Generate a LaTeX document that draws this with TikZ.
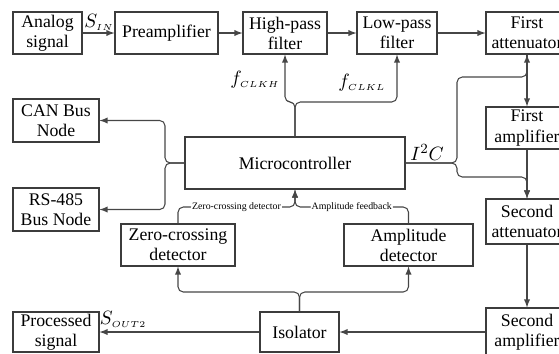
\documentclass[tikz,border=0pt]{standalone}
\usepackage{fontspec}
\setmainfont{Liberation Serif}
\usepackage{tikz}
\usetikzlibrary{arrows}
\definecolor{wire}{RGB}{70, 70, 70}
\definecolor{edge}{RGB}{60, 60, 60}
\newcommand{\lbsub}[1]{\scriptscriptstyle #1}

\begin{document}
\begin{tikzpicture}[
        blk/.style={draw=edge, line width=0.6pt, align=center, inner sep=1pt,
                    minimum height=0.84cm, font=\fontsize{10.1}{11.4}\selectfont},
        sig/.style={draw=wire, line width=0.6pt, -latex, rounded corners=3pt},
        tag/.style={font=\fontsize{5.6}{6.5}\selectfont, fill=white, inner sep=0.6pt},
        lab/.style={font=\fontsize{11}{13}\selectfont, inner sep=0pt}]
            \useasboundingbox (0.00, 0.00) rectangle (11.18, 7.06);
            \clip             (0.00, 0.00) rectangle (11.18, 7.06);

            % signal path, top row
            \node[blk, minimum width=1.38cm] (analog) at ( 0.95,  6.40) {Analog\\signal};
            \node[blk, minimum width=2.06cm] (pre)    at ( 3.33,  6.40) {Preamplifier};
            \node[blk, minimum width=1.68cm] (hpf)    at ( 5.70,  6.40) {High-pass\\filter};
            \node[blk, minimum width=1.60cm] (lpf)    at ( 7.94,  6.40) {Low-pass\\filter};
            \node[blk, minimum width=1.64cm] (att1)   at (10.54,  6.40) {First\\attenuator};

            % right column
            \node[blk, minimum width=1.64cm]                        (amp1) at (10.54,  4.50) {First\\amplifier};
            \node[blk, minimum width=1.64cm, minimum height=0.90cm] (att2) at (10.54,  2.63) {Second\\attenuator};
            \node[blk, minimum width=1.64cm, minimum height=0.96cm] (amp2) at (10.54,  0.42) {Second\\amplifier};

            % control part
            \node[blk, minimum width=4.40cm, minimum height=1.04cm] (mcu)  at ( 5.90,  3.80) {Microcontroller};
            \node[blk, minimum width=1.72cm, minimum height=0.86cm] (can)  at ( 1.12,  4.65) {CAN Bus\\Node};
            \node[blk, minimum width=1.72cm, minimum height=0.86cm] (rs)   at ( 1.12,  2.87) {RS-485\\Bus Node};
            \node[blk, minimum width=2.28cm]                        (zcd)  at ( 3.56,  2.16) {Zero-crossing\\detector};
            \node[blk, minimum width=2.58cm]                        (ampd) at ( 8.17,  2.16) {Amplitude\\detector};

            % output row
            \node[blk, minimum width=1.58cm, minimum height=0.80cm] (iso)  at ( 5.99,  0.42) {Isolator};
            \node[blk, minimum width=1.72cm, minimum height=0.80cm] (out)  at ( 1.12,  0.42) {Processed\\signal};

            \coordinate (clk)  at ( 5.90,  5.02);
            \coordinate (i2c)  at ( 9.14,  3.80);
            \coordinate (bus)  at ( 3.30,  3.80);
            \coordinate (fork) at ( 5.99,  1.22);
            \coordinate (fb)   at ( 5.90,  2.92);

            \draw[sig] (analog) -- (pre);
            \draw[sig] (pre)    -- (hpf);
            \draw[sig] (hpf)    -- (lpf);
            \draw[sig] (lpf)    -- (att1);
            \draw[sig] (att1)   -- (amp1);
            \draw[sig] (amp1)   -- (att2);
            \draw[sig] (att2)   -- (amp2);
            \draw[sig] (amp2)   -- (iso);
            \draw[sig] (iso)    -- (out);

            \draw[sig] (mcu.north) -- (clk) -| (hpf.south);
            \draw[sig] (mcu.north) -- (clk) -| (lpf.south);
            \draw[sig] (mcu.east)  -- (i2c) |- (10.54, 5.52) -- (att1.south);
            \draw[sig] (mcu.east)  -- (i2c) |- (10.54, 3.52) -- (att2.north);
            \draw[sig] (mcu.west)  -- (bus) |- (can.east);
            \draw[sig] (mcu.west)  -- (bus) |- (rs.east);
            \draw[sig] (iso.north) -- (fork) -| (zcd.south);
            \draw[sig] (iso.north) -- (fork) -| (ampd.south);
            \draw[sig] (zcd.north)  |- node[tag, pos=0.75] {Zero-crossing detector} (fb) -- (mcu.south);
            \draw[sig] (ampd.north) |- node[tag, pos=0.75] {Amplitude feedback}     (fb) -- (mcu.south);

            \node[lab] (sin)  at ( 1.98,  6.62) {$S_{\lbsub{IN}}$};
            \node[lab] (fh)   at ( 5.10,  5.46) {$f_{\lbsub{CLKH}}$};
            \node[lab] (fl)   at ( 7.24,  5.40) {$f_{\lbsub{CLKL}}$};
            \node[lab] (ictl) at ( 8.54,  4.02) {$I^2C$};
            \node[lab] (sout) at ( 2.46,  0.68) {$S_{\lbsub{OUT2}}$};
        \end{tikzpicture}
\end{document}
